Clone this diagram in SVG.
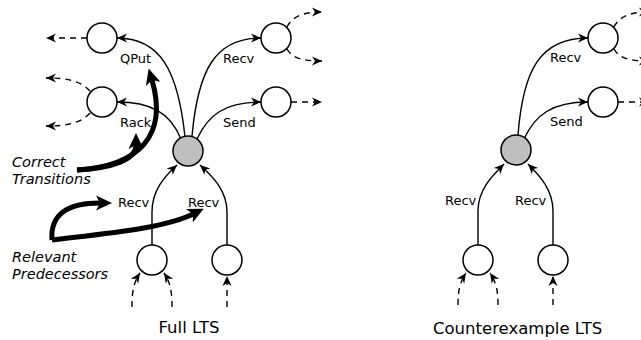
<svg xmlns="http://www.w3.org/2000/svg" width="641" height="340" viewBox="0 0 641 340">
<defs>
<marker id="ah" viewBox="-11 -6 12 12" refX="0" refY="0" markerWidth="12" markerHeight="12" markerUnits="userSpaceOnUse" orient="auto">
<path d="M0,0 L-10,-4.5 L-7,0 L-10,4.5 z" fill="#000"/>
</marker>
<marker id="big" viewBox="-17 -8 18 16" refX="-12" refY="0" markerWidth="18" markerHeight="16" markerUnits="userSpaceOnUse" orient="auto">
<path d="M0,0 L-16,-7.5 L-12,0 L-16,7.5 z" fill="#000"/>
</marker>
<style>
.n{fill:#fff;stroke:#000;stroke-width:1.5}
.g{fill:#bfbfbf;stroke:#000;stroke-width:1.5}
.e{fill:none;stroke:#000;stroke-width:1.4;marker-end:url(#ah)}
.d{fill:none;stroke:#000;stroke-width:1.4;stroke-dasharray:6,5;marker-end:url(#ah)}
.t{fill:none;stroke:#000;stroke-width:5;marker-end:url(#big)}
.l{font-family:"DejaVu Sans","Liberation Sans",sans-serif;font-size:13px;fill:#000}
.i{font-family:"DejaVu Sans","Liberation Sans",sans-serif;font-size:14.5px;font-style:italic;fill:#000}
.c{font-family:"DejaVu Sans","Liberation Sans",sans-serif;font-size:16.5px;fill:#000}
</style>
</defs>
<g id="connectors">
<path class="e" d="M185,137 C178,70 160,38 117,38"/>
<path class="e" d="M181,139 C170,112 150,102 117,102"/>
<path class="e" d="M192,136 C198,70 215,38 261,38"/>
<path class="e" d="M197,139 C208,115 225,102 261,102"/>
<path class="e" d="M152,245 L152,212 C152,190 165,176 177,165"/>
<path class="e" d="M227,245 L227,212 C227,190 212,176 200,165"/>
<path class="d" d="M87,38 L46,38"/>
<path class="d" d="M90,91 C80,80 65,78 46,78"/>
<path class="d" d="M90,113 C80,124 65,126 46,126"/>
<path class="d" d="M287,27 C292,17 302,12 322,12"/>
<path class="d" d="M287,49 C292,58 302,61 322,61"/>
<path class="d" d="M291,102 L322,102"/>
<path class="d" d="M132,307 C132,290 134,282 140,273"/>
<path class="d" d="M172,307 C172,290 170,282 164,273"/>
<path class="d" d="M227,307 L227,276"/>
<path class="t" d="M77,170 C140,166 168,135 152,80"/>
<path class="t" d="M77,170 C112,168 136,160 136,145"/>
<path class="t" d="M52,240 C50,214 68,203 100,203"/>
<path class="t" d="M52,240 C110,233 165,228 193,214"/>
<path class="e" d="M518,135 C523,70 540,38 588,38"/>
<path class="e" d="M524,139 C535,115 552,102 588,102"/>
<path class="e" d="M478,245 L478,211 C478,190 492,176 504,164"/>
<path class="e" d="M553,245 L553,211 C553,190 540,176 528,164"/>
<path class="d" d="M614,27 C619,17 629,12 649,12"/>
<path class="d" d="M614,49 C619,58 629,61 649,61"/>
<path class="d" d="M618,102 L649,102"/>
<path class="d" d="M458,305 C458,290 460,282 466,273"/>
<path class="d" d="M498,305 C498,290 496,282 490,273"/>
<path class="d" d="M553,305 L553,276"/>
</g>
<g id="left-gray"><circle class="g" cx="188" cy="151" r="15"/></g>
<g id="left-qput"><circle class="n" cx="102" cy="38" r="15"/></g>
<g id="left-rack"><circle class="n" cx="102" cy="102" r="15"/></g>
<g id="left-recv"><circle class="n" cx="276" cy="38" r="15"/></g>
<g id="left-send"><circle class="n" cx="276" cy="102" r="15"/></g>
<g id="left-pred1"><circle class="n" cx="152" cy="260" r="15"/></g>
<g id="left-pred2"><circle class="n" cx="227" cy="260" r="15"/></g>
<g id="right-gray"><circle class="g" cx="516" cy="150" r="15"/></g>
<g id="right-recv"><circle class="n" cx="603" cy="38" r="15"/></g>
<g id="right-send"><circle class="n" cx="603" cy="102" r="15"/></g>
<g id="right-pred1"><circle class="n" cx="478" cy="260" r="15"/></g>
<g id="right-pred2"><circle class="n" cx="553" cy="260" r="15"/></g>
<g id="labels">
<text class="l" x="120" y="63">QPut</text>
<text class="l" x="120" y="127">Rack</text>
<text class="l" x="223" y="63">Recv</text>
<text class="l" x="223" y="127">Send</text>
<text class="l" x="118" y="207">Recv</text>
<text class="l" x="188" y="207">Recv</text>
<text class="l" x="550" y="62">Recv</text>
<text class="l" x="550" y="126">Send</text>
<text class="l" x="445" y="205">Recv</text>
<text class="l" x="515" y="205">Recv</text>
<text class="i" x="12" y="167">Correct</text>
<text class="i" x="12" y="184">Transitions</text>
<text class="i" x="12" y="262">Relevant</text>
<text class="i" x="12" y="279">Predecessors</text>
<text class="c" x="189" y="333" text-anchor="middle">Full LTS</text>
<text class="c" x="433" y="334">Counterexample LTS</text>
</g>
</svg>
